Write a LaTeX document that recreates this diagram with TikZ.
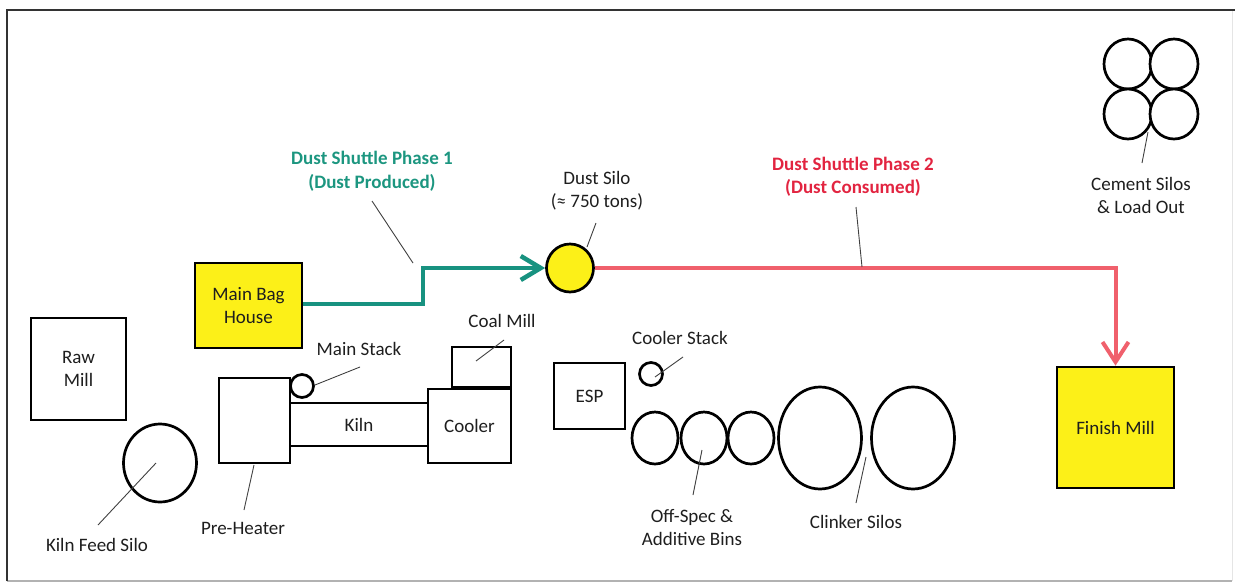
\documentclass[tikz,border=0pt]{standalone}
\usepackage{fontspec}
\setmainfont{Carlito}
\usetikzlibrary{shapes.geometric,arrows.meta}
\definecolor{tealline}{RGB}{24,146,128}
\definecolor{tealtext}{RGB}{28,150,128}
\definecolor{redline}{RGB}{240,96,108}
\definecolor{redtext}{RGB}{226,36,64}
\definecolor{boxyellow}{RGB}{252,240,24}
\definecolor{ink}{RGB}{30,30,30}
\begin{document}
\begin{tikzpicture}[x=1pt,y=-1pt,
  font=\fontsize{19}{23}\selectfont, text=ink,
  unitbox/.style 2 args={draw=black, line width=2.7pt, minimum width=#1pt, minimum height=#2pt, inner sep=0pt, align=center, fill=white},
  yellowbox/.style={fill=boxyellow},
  unitell/.style 2 args={ellipse, draw=black, line width=2.7pt, minimum width=#1pt, minimum height=#2pt, inner sep=0pt, fill=white},
  lbl/.style={align=center, inner sep=0pt},
  leader/.style={draw=ink!85, line width=0.9pt},
  flow1/.style={draw=tealline, line width=4.5pt, -{Straight Barb[length=20pt,width=24pt]}},
  flow2/.style={draw=redline, line width=4pt, -{Straight Barb[length=20pt,width=26pt]}}
]
\useasboundingbox (0,0) rectangle (1235,584);
% frame
\draw[line width=1.4pt, gray!60] (7,581) -- (1232,581);
\draw[line width=0.8pt, gray!20] (1232,10) -- (1232,581);
\draw[line width=2.5pt, gray!40!black] (7,581) -- (7,10) -- (1235,10);

% main units
\node[unitbox={107}{85}, yellowbox] (mbh) at (248.5,305.5) {Main Bag\\House};
\node[unitbox={95}{102}] (raw) at (78.5,369) {Raw\\Mill};
\node[unitell={73}{78}] (kfs) at (160,463) {};
\node[unitbox={138}{43}] (kiln) at (359,424.5) {Kiln};
\node[unitbox={71}{85}] (ph) at (254.5,420.5) {};
\node[unitbox={83}{74}] (cool) at (469.5,426) {Cooler};
\node[unitbox={59}{40}] (coal) at (481.5,367) {};
\node[unitell={23}{23}] (mstack) at (302,386) {};
\node[unitbox={71}{66}] (esp) at (589.5,396) {ESP};
\node[unitell={23}{23}] (cstack) at (651,374) {};
\node[unitell={46}{52}] (bin1) at (655,438) {};
\node[unitell={46}{52}] (bin2) at (704,438) {};
\node[unitell={46}{52}] (bin3) at (751,438) {};
\node[unitell={83}{102}] (clk1) at (820,438) {};
\node[unitell={83}{102}] (clk2) at (913,438) {};
\node[unitell={47}{48}, fill=boxyellow] (silo) at (570,268) {};
\node[unitbox={117}{121}, yellowbox] (fm) at (1115.5,427.5) {Finish Mill};
\node[unitell={48}{50}] (cs1) at (1128,64) {};
\node[unitell={48}{50}] (cs2) at (1174,64) {};
\node[unitell={48}{50}] (cs3) at (1128,114) {};
\node[unitell={48}{50}] (cs4) at (1174,114) {};

% labels
\node[lbl, text=tealtext, font=\fontsize{19}{24}\selectfont\bfseries] (p1) at (372,171) {Dust Shuttle Phase 1\\(Dust Produced)};
\node[lbl, text=redtext, font=\fontsize{19}{23}\selectfont\bfseries] (p2) at (853,176.5) {Dust Shuttle Phase 2\\(Dust Consumed)};
\node[lbl] (lsilo) at (597,191) {Dust Silo\\(≈ 750 tons)};
\node[lbl] (lcs) at (1141,195) {Cement Silos\\\& Load Out};
\node[lbl] (lms) at (359,349) {Main Stack};
\node[lbl] (lcm) at (502,321) {Coal Mill};
\node[lbl] (lkfs) at (97,545) {Kiln Feed Silo};
\node[lbl] (lph) at (243,528) {Pre-Heater};
\node[lbl] (lcst) at (680,338) {Cooler Stack};
\node[lbl] (lbins) at (692,527) {Off-Spec \&\\Additive Bins};
\node[lbl] (lclk) at (856,522) {Clinker Silos};

% flows
\coordinate (bend1) at (423,304);
\draw[flow1] (mbh.east |- bend1) -- (bend1) |- (silo.west);
\draw[flow2] (silo.east) -| (fm.north);

% leaders
\coordinate (a1) at (372,201); \coordinate (b1) at (413,263);
\draw[leader] (a1) -- (b1);
\coordinate (a2) at (596,223); \coordinate (b2) at (587,247);
\draw[leader] (a2) -- (b2);
\coordinate (a3) at (856,207); \coordinate (b3) at (862,267);
\draw[leader] (a3) -- (b3);
\coordinate (a4) at (1142,163); \coordinate (b4) at (1148,132);
\draw[leader] (a4) -- (b4);
\coordinate (a5) at (360,367); \coordinate (b5) at (315,385);
\draw[leader] (a5) -- (b5);
\coordinate (a6) at (504,340); \coordinate (b6) at (476,361);
\draw[leader] (a6) -- (b6);
\coordinate (a7) at (98,525); \coordinate (b7) at (156,463);
\draw[leader] (a7) -- (b7);
\coordinate (a8) at (244,510); \coordinate (b8) at (254,465);
\draw[leader] (a8) -- (b8);
\coordinate (a9) at (683,357); \coordinate (b9) at (655,377);
\draw[leader] (a9) -- (b9);
\coordinate (a10) at (693,495); \coordinate (b10) at (702,450);
\draw[leader] (a10) -- (b10);
\coordinate (a11) at (856,503); \coordinate (b11) at (866,457);
\draw[leader] (a11) -- (b11);
\end{tikzpicture}
\end{document}
